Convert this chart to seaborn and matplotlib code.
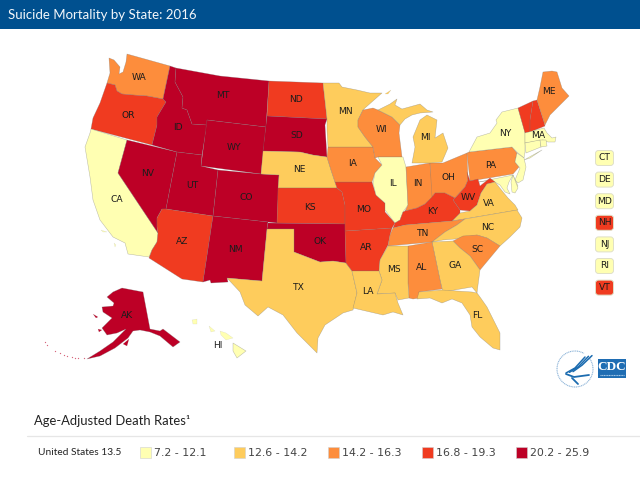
import matplotlib
matplotlib.use("Agg")
import matplotlib.pyplot as plt
from matplotlib.patches import Rectangle, FancyBboxPatch, Arc
import pandas as pd
import seaborn as sns

# rate classes
RANGES = ["7.2 - 12.1", "12.6 - 14.2", "14.2 - 16.3", "16.8 - 19.3", "20.2 - 25.9"]
COLORS = ["#ffffb2", "#fecc5c", "#fd8d3c", "#f03b20", "#bd0026"]
US_RATE = "United States 13.5"

# class index of each state
CLASS_0 = ["CA", "IL", "NY", "MA", "CT", "RI", "NJ", "DE", "MD", "HI", "MD2", "LI"]
CLASS_1 = ["MN", "NE", "TX", "LA", "MS", "GA", "FL", "NC", "VA", "MI", "MI2"]
CLASS_2 = ["WA", "WI", "IA", "IN", "OH", "PA", "ME", "AL", "TN", "SC"]
CLASS_3 = ["OR", "ND", "KS", "MO", "AR", "AZ", "KY", "WV", "VT", "NH"]
CLASS_4 = ["ID", "MT", "WY", "NV", "UT", "CO", "NM", "SD", "OK", "AK"]
ALL_CLASSES = [CLASS_0, CLASS_1, CLASS_2, CLASS_3, CLASS_4]

SMALL_STATES = ["CT", "DE", "MD", "NH", "NJ", "RI", "VT"]

# state outlines, in picture pixels
SHAPES = {
    "WA": [(109,58),(114,60),(120,67),(119,74),(123,72),(126,62),(127,54),(170,66),(163,99),(147,96),(133,95),(122,94),(117,91),(115,85),(107,83),(110,73)],
    "OR": [(107,83),(115,85),(117,91),(122,94),(133,95),(147,96),(163,99),(166,102),(157,117),(157,125),(152,145),(91,129),(93,118),(100,103)],
    "CA": [(91,129),(127,140),(118,173),(158,233),(157,242),(152,250),(149,257),(128,254),(125,243),(113,237),(100,220),(93,200),(90,177),(85,147),(90,133)],
    "NV": [(127,140),(177,152),(166,209),(162,209),(157,218),(157,227),(158,233),(118,173)],
    "ID": [(170,66),(176,68),(175,82),(183,97),(182,108),(187,110),(192,124),(207,125),(202,155),(177,152),(152,145),(157,125),(157,117),(166,102),(163,99)],
    "MT": [(176,68),(220,76),(269,81),(266,127),(207,120),(207,125),(192,124),(187,110),(182,108),(183,97),(175,82)],
    "WY": [(207,120),(266,127),(261,174),(201,166)],
    "UT": [(177,152),(202,155),(201,166),(218,170),(213,216),(166,209)],
    "CO": [(218,170),(261,174),(279,175),(277,223),(213,216)],
    "AZ": [(166,209),(213,216),(203,282),(182,279),(149,258),(152,250),(157,242),(158,233),(157,227),(157,218),(162,209)],
    "NM": [(213,216),(268,222),(267,229),(262,281),(227,278),(228,282),(211,283),(210,280),(203,282)],
    "ND": [(269,81),(323,83),(327,119),(267,116)],
    "SD": [(267,116),(327,119),(325,125),(327,157),(320,156),(313,155),(300,152),(263,151)],
    "NE": [(263,151),(300,152),(313,155),(327,157),(331,170),(337,188),(278,188),(279,175),(261,174)],
    "KS": [(278,188),(337,188),(342,192),(345,205),(345,224),(277,223)],
    "OK": [(268,223),(345,224),(346,263),(333,261),(320,262),(307,257),(294,252),(294,229),(267,229)],
    "TX": [(267,229),(294,229),(294,252),(307,257),(320,262),(333,261),(346,263),(352,271),(357,293),(353,310),(343,313),(325,325),(318,338),(317,353),(297,333),(283,315),(268,307),(258,316),(245,305),(240,292),(227,278),(262,281)],
    "AR": [(345,231),(392,228),(390,235),(388,245),(380,260),(379,271),(352,271),(346,263)],
    "MO": [(335,182),(372,182),(376,195),(385,203),(385,212),(395,223),(392,228),(345,231),(345,205),(342,192),(337,188)],
    "IA": [(328,147),(373,147),(375,158),(382,165),(375,173),(372,182),(335,182),(331,170),(327,157)],
    "MN": [(323,83),(339,83),(342,87),(357,90),(370,93),(382,93),(365,108),(363,110),(358,120),(358,127),(365,137),(373,147),(328,147),(327,130),(327,119)],
    "WI": [(363,110),(373,108),(378,110),(392,117),(400,125),(399,133),(402,157),(378,157),(375,158),(373,147),(365,137),(358,127),(358,120)],
    "IL": [(378,157),(403,157),(406,167),(408,205),(403,212),(400,220),(395,223),(385,210),(385,203),(376,195),(373,183),(375,173),(382,165)],
    "IN": [(406,167),(430,163),(433,197),(425,204),(417,208),(405,211),(408,205)],
    "OH": [(430,163),(443,163),(467,153),(468,180),(465,187),(455,198),(445,193),(435,193),(432,197)],
    "MI": [(412,163),(415,147),(413,137),(420,120),(427,115),(437,120),(435,138),(443,133),(448,148),(442,162),(430,163)],
    "MI2": [(378,110),(390,104),(397,99),(395,105),(402,109),(420,104),(427,110),(433,112),(420,113),(412,115),(405,119),(400,125),(392,117)],
    "PA": [(467,153),(469,152),(512,147),(517,153),(515,162),(519,167),(513,174),(470,181)],
    "NY": [(496,120),(502,112),(518,108),(525,132),(525,152),(524,158),(518,153),(512,147),(469,152),(477,137),(490,133),(497,123)],
    "LI": [(524,160),(542,150),(530,158)],
    "VT": [(518,108),(533,101),(530,120),(530,132),(525,133)],
    "NH": [(533,101),(537,100),(544,122),(545,126),(540,128),(530,132),(530,120)],
    "ME": [(537,100),(540,87),(543,72),(552,71),(557,72),(562,88),(569,96),(560,105),(550,115),(545,125)],
    "MA": [(525,133),(544,128),(547,133),(552,138),(556,137),(555,142),(548,142),(543,140),(525,143)],
    "CT": [(525,143),(540,140),(541,147),(526,153)],
    "RI": [(540,140),(546,140),(547,146),(541,147)],
    "NJ": [(517,153),(524,158),(526,167),(523,180),(518,183),(515,180),(520,168),(515,162)],
    "DE": [(513,175),(518,186),(514,188)],
    "MD": [(479,182),(513,175),(509,182),(507,188),(510,194),(505,192),(500,185),(493,181),(485,181)],
    "MD2": [(513,175),(518,188),(515,193),(512,192),(511,182)],
    "WV": [(467,172),(470,181),(478,179),(480,186),(490,178),(495,182),(487,184),(481,193),(477,205),(470,211),(460,210),(453,200),(456,197),(465,187),(468,180)],
    "VA": [(495,182),(503,192),(508,198),(515,205),(518,210),(452,221),(460,213),(470,211),(477,205),(481,193),(487,184)],
    "KY": [(432,197),(435,193),(445,193),(455,198),(453,200),(460,210),(460,213),(452,221),(405,225),(393,228),(395,223),(400,220),(403,212),(405,211),(417,208),(425,204)],
    "TN": [(393,228),(405,225),(452,221),(465,219),(457,225),(445,232),(432,242),(388,246),(390,235)],
    "NC": [(465,219),(517,210),(522,218),(520,227),(510,237),(500,246),(487,238),(477,235),(455,239),(443,240),(432,242),(445,232),(457,225)],
    "SC": [(453,241),(463,236),(477,235),(487,238),(500,246),(490,258),(480,270),(470,256),(460,248)],
    "GA": [(432,242),(453,241),(460,248),(470,256),(480,270),(478,285),(477,293),(472,287),(443,292),(440,280)],
    "AL": [(408,246),(432,242),(440,280),(442,289),(419,292),(419,298),(413,299),(409,298),(408,283)],
    "MS": [(388,246),(408,246),(408,283),(409,298),(398,300),(395,293),(377,294),(382,280),(379,271),(380,260)],
    "LA": [(352,271),(379,271),(382,280),(377,294),(395,293),(398,303),(403,315),(393,312),(383,315),(353,308),(357,293)],
    "FL": [(417,299),(419,292),(442,290),(472,292),(477,293),(480,297),(487,307),(500,333),(500,350),(493,348),(480,337),(472,327),(470,315),(462,303),(452,299),(442,303),(430,298)],
    "AK": [(122,288),(143,292),(150,329),(160,331),(163,329),(180,342),(173,347),(160,336),(150,332),(140,330),(133,331),(128,338),(115,348),(100,356),(87,359),(100,351),(113,342),(126,329),(117,333),(107,335),(102,328),(108,322),(112,318),(103,312),(102,307),(113,306),(114,303),(107,297),(113,292)],
    "HI": [(233,343),(246,351),(237,358),(233,351)],
}

# little islands, same colouring as their state
ISLANDS = {
    "AK": [[(123,344),(129,339),(127,346)], [(93,314),(98,317),(96,318)], [(98,329),(102,330),(99,332)]],
    "HI": [[(220,331),(226,333),(233,338),(226,340),(221,335)], [(209,326),(215,331),(211,332)], [(192,320),(197,319),(197,324),(193,324)]],
    "MI2": [[(385,94),(391,90),(388,94)]],
    "CA": [[(101,230),(107,232),(103,232)], [(114,243),(116,245),(115,247)]],
}
ALEUTIANS = [(45,342), (47,345), (55,351), (60,353), (64,355), (67,356), (72,357), (75,358), (78,358), (84,358)]

LABELS = {
    "WA": (139,78), "OR": (128,116), "ID": (178,127), "MT": (223,96), "ND": (296,100), "SD": (297,136),
    "WY": (234,147), "NV": (148,174), "UT": (192,185), "CO": (246,197), "CA": (117,200), "NE": (299,170),
    "KS": (310,207), "AZ": (182,241), "NM": (235,250), "OK": (320,241), "TX": (299,287), "AK": (127,315),
    "HI": (218,346), "MN": (345,112), "WI": (382,130), "IA": (353,164), "IL": (393,184), "MO": (364,209),
    "AR": (366,248), "LA": (368,291), "MS": (394,270), "AL": (422,268), "TN": (423,234), "KY": (433,212),
    "IN": (418,183), "OH": (448,178), "MI": (425,138), "GA": (455,265), "FL": (477,316), "SC": (477,249),
    "NC": (488,228), "VA": (489,204), "WV": (468,198), "PA": (491,165), "NY": (505,133), "MA": (538,136),
    "ME": (549,92),
}

sns.set_theme(style="white")
palette = sns.color_palette(COLORS)

fig, ax = plt.subplots(figsize=(6.4, 4.8), dpi=100)
ax.set_position([0, 0, 1, 1])
ax.set_xlim(0, 640)
ax.set_ylim(480, 0)
ax.axis("off")

# header bar
ax.add_patch(Rectangle((0, 0), 640, 29, color="#00508f", lw=0))
ax.text(7.5, 15, "Suicide Mortality by State: 2016", color="#f2f6fa", family="Lato", fontsize=9.5, va="center")

state_class = {}
for i, members in enumerate(ALL_CLASSES):
    for st in members:
        state_class[st] = i

border = (0.45, 0.45, 0.45, 0.5)
for st, pts in SHAPES.items():
    c = palette[state_class[st]]
    xs, ys = zip(*pts)
    ax.fill(xs, ys, facecolor=c, edgecolor=border, lw=0.35, joinstyle="round", zorder=2)
    for isl in ISLANDS.get(st, []):
        xs, ys = zip(*isl)
        ax.fill(xs, ys, facecolor=c, edgecolor=(0.6, 0.6, 0.6, 0.4), lw=0.2, zorder=2)

xs, ys = zip(*ALEUTIANS)
ax.scatter(xs, ys, s=0.9, color=palette[4], alpha=0.6, lw=0, zorder=2)

for st, (x, y) in LABELS.items():
    ax.text(x, y, st, ha="center", va="center", fontsize=6.6, color="#1c1c1c", family="DejaVu Sans", zorder=3)

# buttons for the small states
for i, st in enumerate(SMALL_STATES):
    y = 158 + i * 21.6
    c = palette[state_class[st]]
    ax.add_patch(FancyBboxPatch((597, y - 6), 15, 12, boxstyle="round,pad=1.5,rounding_size=3",
                                facecolor=c, edgecolor="#e0e0c8", lw=0.7, zorder=2))
    ax.text(604.5, y, st, ha="center", va="center", fontsize=6.6, color="#1c1c1c", family="DejaVu Sans", zorder=3)

# HHS seal
ax.add_patch(Arc((575, 369), 36, 36, theta1=-35, theta2=300, color="#8db4d8", lw=0.8, ls=(0, (1, 0.6)), zorder=2))
for dx in (0, 3.5, 7):
    ax.plot([566 + dx, 575 + dx, 585 + dx], [373 - dx * 0.2, 368 - dx * 0.4, 357 - dx * 0.2],
            color="#1c6cb0", lw=1.1, solid_capstyle="round", zorder=3)
ax.plot([566, 574, 589], [374, 377, 375], color="#1c6cb0", lw=1.3, zorder=3)
ax.plot([572, 578], [378, 384], color="#1c6cb0", lw=1.3, zorder=3)

# CDC logo
ax.add_patch(Rectangle((598, 359), 28, 19, color="#1f6db3", lw=0, zorder=2))
ax.text(612, 366.5, "CDC", color="white", family="Liberation Serif", fontweight="bold", fontsize=9.5,
        ha="center", va="center", zorder=3)
ax.plot([600, 624], [375, 375], color="#a9cbe8", lw=0.8, ls=(0, (1, 0.5)), zorder=3)

# legend block
ax.plot([27, 640], [436, 436], color="#e6e6e6", lw=0.9)
ax.text(34, 421, "Age-Adjusted Death Rates¹", family="Lato", fontsize=9.4, color="#222222", va="center")
ax.text(38, 452.5, US_RATE, family="Lato", fontsize=7.3, color="#222222", va="center")

swatches = pd.DataFrame({"x": [145.5 + 94 * i for i in range(len(RANGES))], "y": [452.5] * len(RANGES), "range": RANGES})
sns.scatterplot(data=swatches, x="x", y="y", hue="range", palette=palette, marker="s", s=70,
                edgecolor="#d0d0d0", linewidth=0.4, legend=False, ax=ax, zorder=3)
for x, label in zip(swatches["x"], RANGES):
    ax.text(x + 9, 452.5, label, family="DejaVu Sans", fontsize=7.9, color="#444444", va="center")

ax.set_xlim(0, 640)
ax.set_ylim(480, 0)
fig.savefig("out.png", dpi=100)
